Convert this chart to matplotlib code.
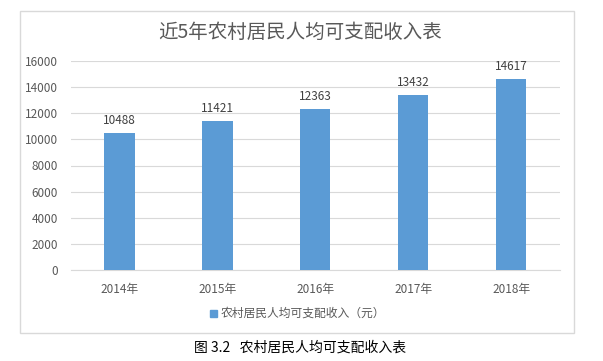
import matplotlib
matplotlib.use("Agg")
import matplotlib.pyplot as plt
from matplotlib.patches import Rectangle

plt.rcParams["font.family"] = ["Noto Sans CJK SC", "DejaVu Sans"]

years = ["2014年", "2015年", "2016年", "2017年", "2018年"]
income = [10488, 11421, 12363, 13432, 14617]
y_ticks = [0, 2000, 4000, 6000, 8000, 10000, 12000, 14000, 16000]

title = "近5年农村居民人均可支配收入表"
series_name = "农村居民人均可支配收入（元）"
caption = "图 3.2   农村居民人均可支配收入表"

W, H = 603, 361
fig = plt.figure(figsize=(W / 100, H / 100), dpi=100)
fig.patch.set_facecolor("white")

# outer chart frame
fig.patches.append(Rectangle((20 / W, 1 - 333 / H), 554 / W, 322 / H,
                             transform=fig.transFigure, fill=False,
                             edgecolor="#D9D9D9", linewidth=1.0))

ax = fig.add_axes([70.5 / W, 1 - 270 / H, 489.5 / W, 209 / H])
x = range(len(years))
bars = ax.bar(x, income, width=0.31, color="#5B9BD5", zorder=3)
for xi, v in zip(x, income):
    ax.text(xi, v + 450, str(v), ha="center", va="bottom",
            fontsize=8.5, color="#404040")

ax.set_xlim(-0.5, 4.5)
ax.set_ylim(0, 16000)
ax.set_yticks(y_ticks)
ax.set_yticklabels([str(t) for t in y_ticks])
ax.set_xticks(list(x))
ax.set_xticklabels(years)
ax.grid(axis="y", color="#D9D9D9", linewidth=0.8, zorder=0)
for s in ["top", "right", "left"]:
    ax.spines[s].set_visible(False)
ax.spines["bottom"].set_color("#D9D9D9")
ax.tick_params(axis="both", length=0, labelsize=8.5, colors="#595959")
ax.tick_params(axis="y", pad=9)
ax.tick_params(axis="x", pad=9)

fig.text(300 / W, 1 - 32 / H, title, ha="center", va="center",
         fontsize=14, color="#595959")

# legend
fig.patches.append(Rectangle((210 / W, 1 - 317 / H), 7 / W, 7 / H,
                             transform=fig.transFigure, color="#5B9BD5"))
fig.text(221 / W, 1 - 313 / H, series_name, ha="left", va="center",
         fontsize=8.5, color="#595959")

fig.text(300 / W, 1 - 348 / H, caption, ha="center", va="center",
         fontsize=10, color="black")

fig.savefig("out.png", dpi=100)
